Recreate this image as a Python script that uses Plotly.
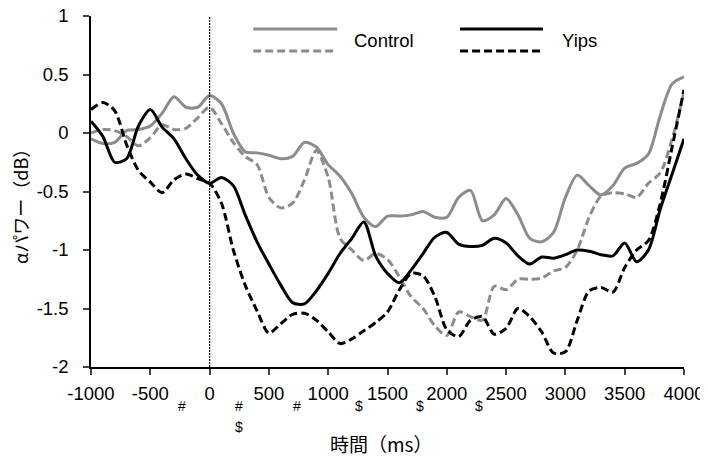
import plotly.graph_objects as go

time_ms = list(range(-1000, 4001, 100))

control_move = [-0.05, -0.09, -0.08, 0.02, 0.03, 0.06, 0.17, 0.31, 0.22, 0.22,
                0.32, 0.25, 0.0, -0.16, -0.17, -0.19, -0.22, -0.2, -0.08, -0.12,
                -0.27, -0.37, -0.52, -0.72, -0.8, -0.71, -0.71, -0.7, -0.67, -0.72,
                -0.72, -0.55, -0.49, -0.75, -0.7, -0.56, -0.7, -0.9, -0.93, -0.85,
                -0.55, -0.36, -0.45, -0.53, -0.45, -0.3, -0.26, -0.18, 0.15, 0.42,
                0.48]
control_dash = [0.0, 0.03, 0.02, -0.03, -0.11, -0.04, 0.07, 0.03, 0.04, 0.13,
                0.22, 0.08, -0.08, -0.2, -0.27, -0.55, -0.64, -0.6, -0.4, -0.15,
                -0.38, -0.9, -1.0, -1.09, -1.03, -1.08, -1.23, -1.4, -1.5, -1.65,
                -1.73, -1.53, -1.57, -1.6, -1.31, -1.34, -1.25, -1.25, -1.24, -1.18,
                -1.15, -1.0, -0.72, -0.54, -0.51, -0.52, -0.55, -0.43, -0.34, -0.05,
                0.35]
yips_move = [0.1, -0.03, -0.25, -0.22, 0.06, 0.2, 0.05, -0.05, -0.22, -0.36,
             -0.43, -0.38, -0.45, -0.7, -0.93, -1.12, -1.3, -1.45, -1.46, -1.35,
             -1.2, -1.03, -0.9, -0.76, -1.05, -1.2, -1.28, -1.17, -1.03, -0.89,
             -0.85, -0.95, -0.97, -0.96, -0.9, -0.94, -1.05, -1.12, -1.06, -1.07,
             -1.04, -1.0, -1.01, -1.04, -1.05, -0.94, -1.1, -1.0, -0.65, -0.35,
             -0.05]
yips_dash = [0.2, 0.26, 0.19, -0.1, -0.32, -0.42, -0.51, -0.4, -0.35, -0.39,
             -0.43, -0.6, -1.0, -1.3, -1.52, -1.71, -1.63, -1.55, -1.54, -1.6,
             -1.7, -1.8, -1.76, -1.69, -1.62, -1.53, -1.34, -1.2, -1.22, -1.4,
             -1.68, -1.74, -1.6, -1.57, -1.72, -1.67, -1.5, -1.57, -1.7, -1.88,
             -1.87, -1.6, -1.35, -1.32, -1.36, -1.15, -1.0, -0.92, -0.6, -0.12,
             0.37]

x_ticks = [-1000, -500, 0, 500, 1000, 1500, 2000, 2500, 3000, 3500, 4000]
x_tick_text = ["-1000", "-500", "0", "500", "1000", "1500", "2000", "2500", "3000", "3500", "4000"]
y_ticks = [1, 0.5, 0, -0.5, -1, -1.5, -2]
y_tick_text = ["1", "0.5", "0", "-0.5", "-1", "-1.5", "-2"]
onset_ms = 0
sig_row1_ms = [-230, 250, 740, 1260, 1775, 2270]
sig_row1_text = ["#", "#", "#", "$", "$", "$"]
sig_row2_ms = [250]
sig_row2_text = ["$"]

GRAY = "#8c8c8c"
BLACK = "#000000"
DASH = "8px,4px"
NUM_FONT = "Liberation Sans, Arial, sans-serif"
JP_FONT = "Noto Sans CJK JP, sans-serif"

fig = go.Figure()
for y, color, dash in [(control_move, GRAY, "solid"), (control_dash, GRAY, DASH),
                       (yips_move, BLACK, "solid"), (yips_dash, BLACK, DASH)]:
    fig.add_trace(go.Scatter(x=time_ms, y=y, mode="lines",
                             line=dict(color=color, width=3, dash=dash, shape="spline", smoothing=0.8),
                             showlegend=False, hoverinfo="skip"))

fig.add_trace(go.Scatter(x=[onset_ms, onset_ms], y=[y_ticks[-1], y_ticks[0]], mode="lines",
                         line=dict(color="black", width=1.2, dash="2px,1px"), showlegend=False,
                         hoverinfo="skip"))

# legend drawn manually (two line styles per group)
def leg_line(x0, x1, y, color, dash):
    fig.add_shape(type="line", xref="paper", yref="paper", x0=x0, x1=x1, y0=y, y1=y,
                  line=dict(color=color, width=3, dash=dash))

leg_line(0.2735, 0.4151, 0.963, GRAY, "solid")
leg_line(0.2735, 0.4151, 0.9003, GRAY, DASH)
leg_line(0.6224, 0.7623, 0.963, BLACK, "solid")
leg_line(0.6224, 0.7623, 0.9003, BLACK, DASH)
fig.add_annotation(text="Control", xref="paper", yref="paper", x=0.4403, y=0.9288,
                   xanchor="left", yanchor="middle", showarrow=False,
                   font=dict(family=NUM_FONT, size=18.5, color="black"))
fig.add_annotation(text="Yips", xref="paper", yref="paper", x=0.791, y=0.9288,
                   xanchor="left", yanchor="middle", showarrow=False,
                   font=dict(family=NUM_FONT, size=18.5, color="black"))

for ms, t in zip(sig_row1_ms, sig_row1_text):
    fig.add_annotation(text=t, x=ms, xref="x", y=0, yref="paper", yanchor="middle",
                       yshift=-39, showarrow=False, font=dict(family=NUM_FONT, size=14, color="black"))
for ms, t in zip(sig_row2_ms, sig_row2_text):
    fig.add_annotation(text=t, x=ms, xref="x", y=0, yref="paper", yanchor="middle",
                       yshift=-60, showarrow=False, font=dict(family=NUM_FONT, size=14, color="black"))

# axis titles
fig.add_annotation(text="時間（ms）", xref="paper", yref="paper", x=0.49, y=0, yanchor="middle",
                   yshift=-76, showarrow=False, font=dict(family=JP_FONT, size=19, color="black"))
fig.add_annotation(text="αパワー（dB）", xref="paper", yref="paper", x=0, y=0.47, xanchor="center",
                   yanchor="middle", xshift=-71, textangle=-90, showarrow=False,
                   font=dict(family=JP_FONT, size=18, color="black"))

# page body adds an 8px offset, so the figure is 8px smaller and margins shifted
fig.update_layout(
    width=700, height=449,
    margin=dict(l=83, r=24, t=8, b=90, autoexpand=False),
    paper_bgcolor="white", plot_bgcolor="white",
    font=dict(family=NUM_FONT, size=18.5, color="black"),
    xaxis=dict(range=[-1000, 4000], tickvals=x_ticks, ticktext=x_tick_text, ticks="outside",
               ticklen=6, tickwidth=1.5, showline=True, linecolor="black", linewidth=1.5,
               showgrid=False, zeroline=False, automargin=False, ticklabelstandoff=3,
               ticklabeloverflow="allow", tickfont=dict(size=18.5)),
    yaxis=dict(range=[-2, 1], tickvals=y_ticks, ticktext=y_tick_text, ticks="outside", ticklen=6,
               tickwidth=1.5, showline=True, linecolor="black", linewidth=1.5, showgrid=False,
               zeroline=False, automargin=False, tickfont=dict(size=18.5), ticklabelstandoff=11,
               ticklabeloverflow="allow"),
)

fig.write_html("out.html")
